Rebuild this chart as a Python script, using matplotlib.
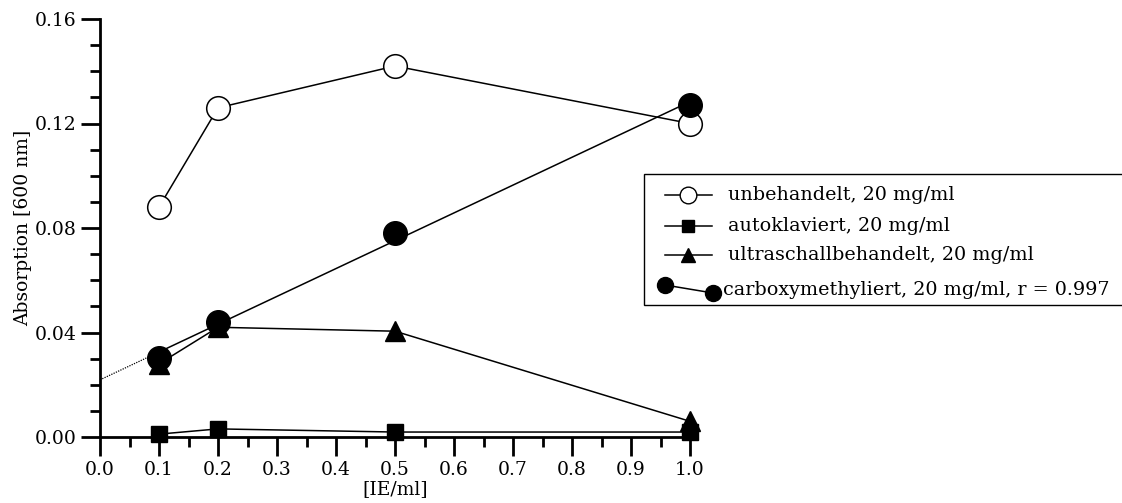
import numpy as np
import matplotlib
matplotlib.use("Agg")
import matplotlib.pyplot as plt
from matplotlib.lines import Line2D
from matplotlib.patches import Rectangle
from matplotlib.ticker import MultipleLocator, FormatStrFormatter

plt.rcParams['font.family'] = ['DejaVu Serif']

conc = [0.1, 0.2, 0.5, 1.0]
unbehandelt = [0.088, 0.126, 0.142, 0.120]
autoklaviert = [0.0011, 0.0031, 0.0019, 0.0019]
ultraschall = [0.028, 0.042, 0.0405, 0.006]
carboxy = [0.0302, 0.044, 0.078, 0.127]

labels = ["unbehandelt, 20 mg/ml",
          "autoklaviert, 20 mg/ml",
          "ultraschallbehandelt, 20 mg/ml",
          "carboxymethyliert, 20 mg/ml, r = 0.997"]

W, H = 1122, 503
fig = plt.figure(figsize=(W / 100, H / 100), dpi=100)
ax = fig.add_axes([100 / W, 66 / H, 590 / W, 418 / H])

lw = 1.1
ax.plot(conc, unbehandelt, color='black', lw=lw, marker='o', ms=17,
        mfc='white', mec='black', mew=1.1, zorder=3)
ax.plot(conc, autoklaviert, color='black', lw=lw, marker='s', ms=12,
        mfc='black', mec='black', zorder=3)
ax.plot(conc, ultraschall, color='black', lw=lw, marker='^', ms=14,
        mfc='black', mec='black', zorder=3)

# linear regression for the carboxymethylated series
slope, icpt = np.polyfit(conc, carboxy, 1)
xs = np.array([conc[0], conc[-1]])
ax.plot(xs, icpt + slope * xs, color='black', lw=lw, zorder=4)
xd = np.array([0.0, conc[0]])
ax.plot(xd, icpt + slope * xd, color='black', lw=0.9, ls=(0, (1, 1)), zorder=4)
ax.plot(conc, carboxy, ls='none', marker='o', ms=17, mfc='black',
        mec='black', zorder=5)

ax.set_xlim(0, 1.0)
ax.set_ylim(0, 0.16)
ax.xaxis.set_major_locator(MultipleLocator(0.1))
ax.xaxis.set_minor_locator(MultipleLocator(0.05))
ax.yaxis.set_major_locator(MultipleLocator(0.04))
ax.yaxis.set_minor_locator(MultipleLocator(0.01))
ax.xaxis.set_major_formatter(FormatStrFormatter('%.1f'))
ax.yaxis.set_major_formatter(FormatStrFormatter('%.2f'))

for s in ['top', 'right']:
    ax.spines[s].set_visible(False)
for s in ['left', 'bottom']:
    ax.spines[s].set_linewidth(2)
ax.tick_params(which='major', direction='out', length=14, width=2,
               labelsize=13.5, pad=3)
ax.tick_params(which='minor', direction='out', length=7, width=2)
for ln in ax.lines:
    ln.set_clip_on(False)

ax.set_xlabel("[IE/ml]", fontsize=13.5, labelpad=1)
ax.set_ylabel("Absorption [600 nm]", fontsize=13.5, labelpad=2)

# legend box drawn on a pixel-based overlay
lg = fig.add_axes([0, 0, 1, 1], zorder=10)
lg.set_xlim(0, W)
lg.set_ylim(H, 0)
lg.axis('off')
lg.patch.set_alpha(0)
lg.add_patch(Rectangle((644, 174), 500, 131, fill=True, facecolor='white',
                       edgecolor='black', lw=1.0, clip_on=False))

row_y = [195, 226, 255]
styles = [dict(marker='o', ms=12, mfc='white', mew=1.0),
          dict(marker='s', ms=8.5, mfc='black'),
          dict(marker='^', ms=10, mfc='black')]
for y, st, lab in zip(row_y, styles, labels[:3]):
    lg.add_line(Line2D([665, 712], [y, y], color='black', lw=lw,
                       clip_on=False))
    lg.add_line(Line2D([688.5], [y], color='black', ls='none', mec='black',
                       clip_on=False, **st))
    lg.text(728, y, lab, fontsize=13.8, va='center', ha='left')

lg.add_line(Line2D([665, 713], [285, 293], color='black', lw=lw, marker='o',
                   ms=11.5, mfc='black', mec='black', clip_on=False))
lg.text(723, 290, labels[3], fontsize=13.8, va='center', ha='left')

fig.savefig("out.png", dpi=100)
